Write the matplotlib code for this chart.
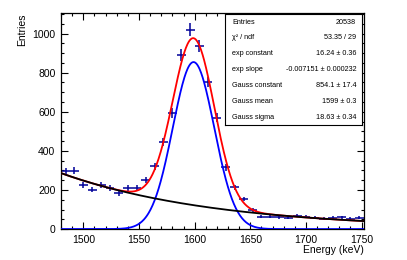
import matplotlib
matplotlib.use("Agg")
import matplotlib.pyplot as plt
from matplotlib.ticker import MultipleLocator
import numpy as np

plt.rcParams['font.family'] = ['Liberation Sans', 'DejaVu Sans']

# histogram: 34 bins of 8 keV from 1480 to 1752
bin_lo = 1480
bin_w = 8
counts = [295, 299, 226, 202, 226, 210, 185, 210, 210, 251,
          321, 444, 593, 889, 1020, 935, 752, 570, 316, 213,
          154, 99, 63, 63, 61, 58, 68, 62, 57, 53,
          57, 61, 52, 58]

# fit parameters (from the stats box)
exp_const = 16.24
exp_slope = -0.007151
g_const = 854.1
g_mean = 1599
g_sigma = 18.63

stats_labels = ["Entries", "χ² / ndf", "exp constant", "exp slope",
                "Gauss constant", "Gauss mean", "Gauss sigma"]
stats_values = ["20538", "53.35 / 29", "16.24 ± 0.36",
                "-0.007151 ± 0.000232", "854.1 ± 17.4",
                "1599 ± 0.3", "18.63 ± 0.34"]

counts = np.array(counts, dtype=float)
centers = bin_lo + bin_w * (np.arange(len(counts)) + 0.5)
x_hi = bin_lo + bin_w * len(counts)

xs = np.linspace(bin_lo, x_hi, 600)
bkg = np.exp(exp_const + exp_slope * xs)
gaus = g_const * np.exp(-0.5 * ((xs - g_mean) / g_sigma) ** 2)

fig = plt.figure(figsize=(4.07, 2.60), dpi=100)
ax = fig.add_axes([0.150, 0.119, 0.744, 0.831])

ax.errorbar(centers, counts, xerr=bin_w / 2, yerr=np.sqrt(counts),
            fmt='none', ecolor='#000099', elinewidth=1.1, capsize=0, zorder=2)
ax.plot(xs, bkg + gaus, color='red', lw=1.3, zorder=3)
ax.plot(xs, gaus, color='blue', lw=1.3, zorder=3)
ax.plot(xs, bkg, color='black', lw=1.3, zorder=4)

ax.set_xlim(bin_lo, x_hi)
ax.set_ylim(0, 1105)
ax.xaxis.set_major_locator(MultipleLocator(50))
ax.xaxis.set_minor_locator(MultipleLocator(10))
ax.yaxis.set_major_locator(MultipleLocator(200))
ax.yaxis.set_minor_locator(MultipleLocator(50))
ax.tick_params(which='both', direction='in', top=True, right=True,
               labelsize=7.5, width=0.8)
ax.tick_params(which='major', length=5, pad=4)
ax.tick_params(which='minor', length=2.5)
for s in ax.spines.values():
    s.set_linewidth(0.9)

ax.set_xlabel("Energy (keV)", fontsize=7.5, loc='right', labelpad=0)
ax.set_ylabel("Entries", fontsize=7.5, loc='top', labelpad=4)

# stats box
box = ax.inset_axes([0.543, 0.48, 0.452, 0.515])
box.set_xticks([])
box.set_yticks([])
box.set_xlim(0, 1)
box.set_ylim(0, 1)
box.set_facecolor('white')
for s in box.spines.values():
    s.set_linewidth(0.8)
n = len(stats_labels)
for i, (lab, val) in enumerate(zip(stats_labels, stats_values)):
    y = 1 - (i + 0.5) / n
    box.text(0.05, y, lab, fontsize=5.2, va='center', ha='left')
    box.text(0.955, y, val, fontsize=5.2, va='center', ha='right')

fig.savefig("out.png", dpi=100)
